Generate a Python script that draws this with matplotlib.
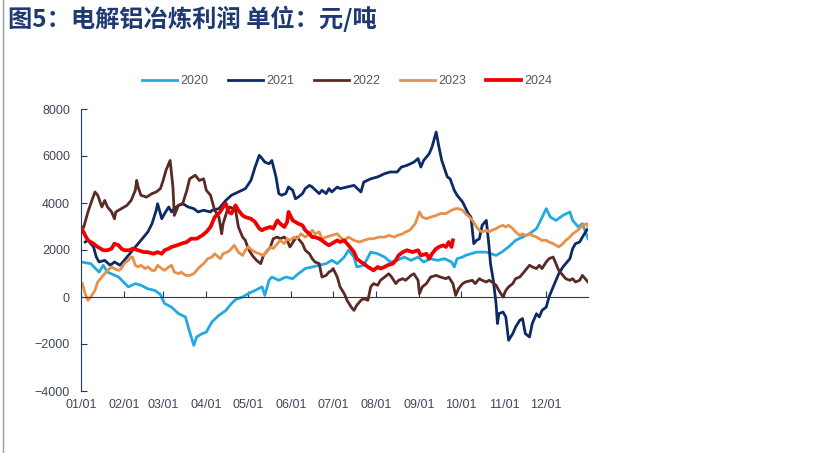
import matplotlib
matplotlib.use("Agg")
import matplotlib.pyplot as plt
from matplotlib.lines import Line2D

# day of year (0 = 01/01) and profit (yuan/ton)
d2020 = [0, 7, 13, 16, 19, 27, 34, 39, 43, 48, 53, 57, 60, 65, 70, 75, 77, 81, 83, 87,
         90, 94, 99, 104, 108, 111, 116, 120, 125, 130, 132, 135, 137, 142, 147, 152, 156, 161, 166, 171,
         176, 180, 184, 189, 192, 196, 198, 203, 208, 213, 218, 222, 227, 232, 237, 242, 246, 251, 256, 261,
         266, 268, 270, 274, 276, 284, 291, 298, 302, 307, 312, 317, 322, 327, 330, 334, 337, 341, 346, 351,
         353, 357, 360, 364]
v2020 = [1490, 1420, 1060, 1350, 1060, 850, 430, 570, 500, 350, 280, 110, -280, -430, -710, -850, -1280, -2060, -1700, -1560,
         -1490, -1060, -780, -570, -280, -110, 0, 140, 280, 430, 70, 710, 850, 710, 850, 780, 990, 1210, 1280, 1350,
         1420, 1560, 1420, 1700, 1990, 1700, 1280, 1350, 1910, 1840, 1700, 1490, 1560, 1700, 1560, 1700, 1490, 1630, 1560, 1630,
         1490, 1280, 1630, 1700, 1770, 1910, 1910, 1770, 1910, 2130, 2410, 2550, 2690, 2910, 3260, 3760, 3400, 3260, 3470, 3620,
         3260, 2980, 3120, 2480]

d2021 = [3, 5, 9, 11, 13, 17, 21, 24, 28, 31, 35, 39, 43, 48, 51, 54, 55, 58, 60, 63,
         65, 67, 70, 73, 77, 81, 84, 88, 93, 94, 99, 104, 108, 113, 118, 122, 125, 128, 130, 132,
         135, 137, 140, 142, 144, 147, 149, 152, 154, 156, 159, 161, 164, 166, 171, 173, 176, 178, 180, 184,
         186, 191, 196, 201, 203, 208, 213, 218, 222, 227, 230, 234, 239, 242, 244, 246, 250, 252, 255, 257,
         259, 263, 265, 268, 270, 274, 278, 280, 282, 284, 286, 288, 291, 292, 293, 294, 296, 298, 299, 300,
         303, 305, 307, 310, 312, 315, 317, 319, 322, 324, 327, 329, 331, 334, 336, 339, 341, 343, 346, 348,
         351, 353, 355, 358, 360, 363, 364]
v2021 = [2340, 2410, 2130, 1700, 1490, 1560, 1350, 1490, 1350, 1560, 1840, 2130, 2410, 2770, 3120, 3690, 3970, 3330, 3550, 3830,
         3620, 3760, 3900, 3970, 3830, 3760, 3620, 3690, 3620, 3690, 3760, 4110, 4330, 4470, 4610, 4960, 5530, 6030, 5890, 5740,
         5670, 5810, 5110, 4400, 4330, 4400, 4680, 4540, 4180, 4250, 4400, 4610, 4750, 4680, 4400, 4540, 4400, 4610, 4470, 4680,
         4610, 4680, 4750, 4470, 4890, 5030, 5110, 5250, 5320, 5320, 5530, 5600, 5740, 5890, 5530, 5810, 6100, 6380, 7020, 6380,
         5810, 5110, 5030, 4540, 4330, 4040, 3550, 3400, 2270, 2410, 2480, 3050, 3260, 2690, 2130, 1420, 710, -280, -1130, -710,
         -640, -850, -1840, -1560, -1280, -990, -920, -1560, -1700, -1130, -710, -850, -570, -430, 0, 430, 710, 990, 1280, 1420,
         1630, 2060, 2270, 2340, 2550, 2840, 2910]

d2022 = [2, 5, 7, 10, 12, 15, 17, 19, 22, 24, 25, 29, 33, 36, 39, 40, 41, 43, 47, 51,
         54, 57, 59, 61, 63, 64, 66, 67, 70, 73, 76, 78, 82, 85, 88, 90, 93, 94, 96, 99,
         101, 102, 105, 107, 111, 113, 116, 118, 120, 123, 126, 129, 131, 134, 136, 138, 141, 143, 146, 148,
         150, 153, 155, 159, 161, 164, 166, 168, 171, 173, 176, 178, 180, 181, 184, 186, 189, 191, 194, 196,
         198, 201, 203, 206, 208, 210, 213, 215, 218, 221, 223, 226, 228, 231, 233, 237, 239, 242, 243, 245,
         248, 251, 255, 258, 262, 264, 267, 269, 271, 274, 276, 281, 283, 286, 288, 291, 293, 295, 298, 300,
         303, 305, 307, 310, 312, 315, 317, 319, 322, 324, 327, 329, 331, 334, 336, 339, 341, 343, 346, 348,
         351, 353, 355, 358, 360, 363, 364]
v2022 = [2980, 3620, 3970, 4470, 4330, 3830, 4110, 3830, 3620, 3330, 3620, 3760, 3900, 4110, 4540, 4960, 4680, 4330, 4250, 4400,
         4470, 4610, 4960, 5390, 5670, 5810, 4680, 3470, 3900, 3970, 4540, 5030, 5180, 4960, 5030, 4540, 4330, 4110, 3690, 3400,
         2690, 3120, 3690, 3830, 3690, 2980, 2550, 2410, 2060, 1770, 1560, 1420, 1770, 1990, 2130, 2480, 2550, 2480, 2550, 2410,
         2130, 2410, 2550, 2270, 1990, 1840, 1630, 1490, 1420, 850, 920, 1060, 1130, 1210, 850, 430, 140, -140, -430, -570,
         -350, -140, -70, -140, 430, 570, 500, 710, 850, 990, 850, 570, 710, 780, 710, 920, 990, 710, 140, 430,
         570, 850, 920, 850, 780, 850, 570, 70, 350, 570, 640, 710, 570, 780, 710, 640, 710, 640, 500, 280,
         0, 280, 430, 570, 780, 850, 990, 1130, 1350, 1280, 1210, 1350, 1210, 1490, 1630, 1700, 1420, 1130, 920, 780,
         710, 780, 640, 710, 920, 710, 640]

d2023 = [1, 3, 5, 7, 10, 12, 15, 17, 19, 22, 24, 27, 29, 31, 34, 36, 37, 39, 41, 43,
         46, 48, 51, 53, 55, 58, 60, 63, 65, 67, 70, 72, 75, 78, 81, 84, 88, 91, 94, 96,
         100, 102, 105, 107, 110, 113, 116, 118, 120, 123, 125, 128, 131, 134, 136, 138, 141, 143, 146, 148,
         150, 153, 155, 158, 161, 164, 166, 168, 171, 173, 176, 180, 184, 186, 189, 192, 196, 200, 203, 207,
         210, 214, 218, 221, 225, 227, 231, 233, 236, 238, 240, 243, 245, 248, 251, 255, 258, 262, 266, 269,
         271, 274, 276, 279, 281, 284, 286, 288, 291, 293, 295, 298, 300, 303, 305, 307, 310, 312, 315, 317,
         319, 322, 324, 327, 329, 331, 334, 336, 339, 341, 343, 346, 348, 351, 353, 355, 358, 360, 363, 364]
v2023 = [570, 140, -140, 0, 280, 640, 850, 990, 1130, 1280, 1210, 1130, 1210, 1420, 1560, 1700, 1700, 1350, 1280, 1350,
         1210, 1280, 1130, 1130, 1350, 1210, 1130, 1280, 1350, 1060, 990, 1060, 920, 920, 990, 1210, 1420, 1630, 1700, 1840,
         1630, 1840, 1910, 1990, 2200, 1910, 1770, 1990, 2130, 1990, 1910, 1840, 1770, 1990, 2130, 2060, 2270, 2410, 2270, 2480,
         2410, 2550, 2480, 2690, 2550, 2690, 2840, 2690, 2770, 2480, 2550, 2620, 2690, 2550, 2410, 2550, 2410, 2340, 2410, 2480,
         2480, 2550, 2550, 2620, 2550, 2620, 2690, 2770, 2840, 2980, 3120, 3620, 3400, 3330, 3400, 3470, 3550, 3550, 3690, 3760,
         3760, 3690, 3550, 3400, 3260, 2980, 2840, 2770, 2840, 2770, 2840, 2910, 2980, 3050, 2980, 3050, 2910, 2770, 2620, 2690,
         2620, 2690, 2620, 2550, 2480, 2410, 2410, 2340, 2270, 2200, 2130, 2270, 2410, 2550, 2690, 2770, 2910, 3050, 3120, 2980]

d2024 = [0, 3, 5, 9, 12, 16, 19, 22, 24, 27, 29, 31, 35, 37, 41, 45, 48, 52, 55, 58,
         60, 63, 65, 69, 72, 76, 79, 83, 87, 90, 93, 96, 100, 102, 104, 106, 108, 111, 113, 116,
         118, 122, 125, 128, 130, 132, 136, 138, 141, 143, 146, 148, 149, 152, 154, 156, 159, 161, 164, 166,
         168, 171, 173, 176, 178, 182, 184, 186, 189, 191, 194, 196, 198, 201, 203, 206, 208, 210, 213, 215,
         218, 220, 224, 226, 228, 231, 234, 238, 242, 244, 248, 250, 252, 255, 257, 260, 262, 264, 266, 267]
v2024 = [2980, 2620, 2410, 2270, 2130, 1990, 1990, 2060, 2270, 2200, 2060, 1990, 1990, 2060, 1990, 1910, 1910, 1840, 1910, 1840,
         1990, 2060, 2130, 2200, 2270, 2340, 2480, 2480, 2620, 2770, 2980, 3400, 3620, 3830, 3970, 3620, 3550, 3900, 3690, 3470,
         3400, 3330, 3190, 2910, 2840, 2910, 2980, 2910, 3260, 3120, 2980, 3190, 3620, 3260, 3190, 3120, 3050, 2840, 2690, 2550,
         2550, 2480, 2410, 2270, 2200, 2340, 2410, 2340, 2410, 2270, 2060, 1910, 1630, 1490, 1420, 1280, 1210, 1130, 1280, 1210,
         1280, 1350, 1420, 1560, 1770, 1910, 1990, 1910, 1990, 1770, 1840, 1630, 1840, 2060, 2130, 2200, 2130, 2340, 2130, 2410]

month_days = [0, 31, 59, 90, 120, 151, 181, 212, 243, 273, 304, 334]
month_labels = ["01/01", "02/01", "03/01", "04/01", "05/01", "06/01",
                "07/01", "08/01", "09/01", "10/01", "11/01", "12/01"]
y_ticks = [-4000, -2000, 0, 2000, 4000, 6000, 8000]

series = [
    ("2020", d2020, v2020, "#22a9e1", 2.0),
    ("2021", d2021, v2021, "#0c2a66", 2.0),
    ("2022", d2022, v2022, "#5a2a24", 2.0),
    ("2023", d2023, v2023, "#e8904a", 2.0),
    ("2024", d2024, v2024, "#f00000", 2.7),
]

navy = "#1f3864"
title_color = "#1f3a72"
tick_color = "#404858"

fig = plt.figure(figsize=(8.33, 4.53), dpi=100)
ax = fig.add_axes([81 / 833, 1 - 391 / 453, 507 / 833, 282 / 453])

for name, d, v, c, lw in series:
    assert len(d) == len(v), name
    ax.plot(d, v, color=c, lw=lw, label=name, solid_joinstyle="round")

ax.set_xlim(0, 364)
ax.set_ylim(-4000, 8000)
ax.set_yticks(y_ticks)
ax.set_xticks(month_days)

for s in ["top", "right"]:
    ax.spines[s].set_visible(False)
ax.spines["left"].set_color(navy)
ax.spines["bottom"].set_color(navy)
ax.spines["bottom"].set_position(("data", 0))
ax.tick_params(axis="x", direction="in", length=4, color=navy, labelbottom=False)
ax.tick_params(axis="y", direction="in", length=4, color=navy, pad=8,
               labelsize=9, labelcolor=tick_color)
for lab in ax.get_yticklabels():
    lab.set_family("Liberation Sans")

# date labels sit under the plot, not on the zero line
sec = ax.secondary_xaxis("bottom")
sec.set_xticks(month_days, month_labels)
sec.spines["bottom"].set_visible(False)
sec.tick_params(length=0, pad=6, labelsize=9, labelcolor=tick_color)
for lab in sec.get_xticklabels():
    lab.set_family("Liberation Sans")

leg = fig.legend(loc="center", bbox_to_anchor=(347 / 833, 1 - 81 / 453), ncol=5,
                 frameon=False, handlelength=2.8, handletextpad=0.25, columnspacing=1.6,
                 prop={"family": "Liberation Sans", "size": 9}, labelcolor="#595959")

fig.text(8 / 833, 1 - 19 / 453, "图5：电解铝冶炼利润 单位：元/吨", ha="left", va="center",
         fontsize=17.5, fontweight="bold", color=title_color,
         family=["Noto Sans CJK SC", "DejaVu Sans"])

fig.add_artist(Line2D([2.5 / 833, 2.5 / 833], [0, 1], transform=fig.transFigure,
                      color="#9a9a9a", lw=1))

fig.savefig("out.png", dpi=100)
